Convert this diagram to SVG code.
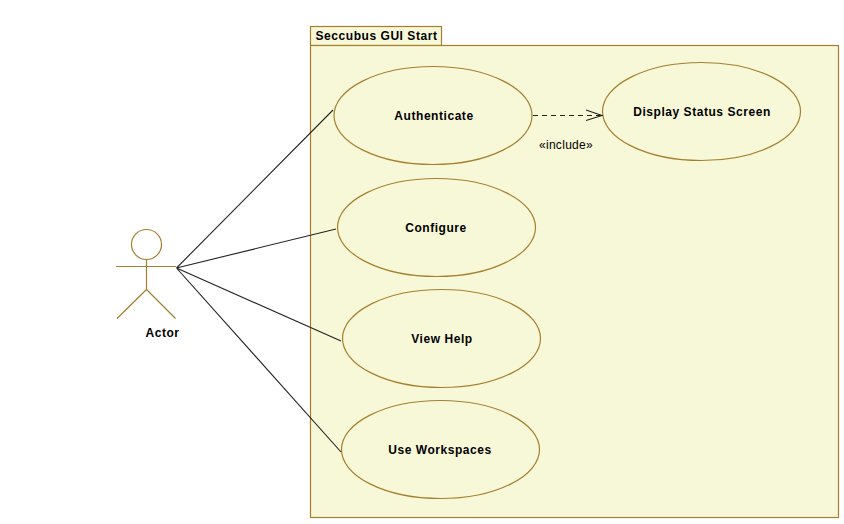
<svg xmlns="http://www.w3.org/2000/svg" width="844" height="524" viewBox="0 0 844 524">
<style>
.s{fill:#f7f8d8;stroke:#a57f2f;stroke-width:1.2}
.l{fill:none;stroke:#a57f2f;stroke-width:1.2}
.c{fill:none;stroke:#222;stroke-width:1.1}
text{font-family:"Liberation Sans",Arial,sans-serif;font-size:12px;font-weight:bold;fill:#000;text-anchor:middle;letter-spacing:.55px}
</style>
<rect width="844" height="524" fill="#fff"/>
<g id="package">
<rect class="s" x="310.500" y="26.500" width="131" height="19"/>
<rect class="s" x="310.500" y="45.500" width="528" height="472"/>
<text x="376.500" y="40">Seccubus GUI Start</text>
</g>
<g id="authenticate"><ellipse class="s" cx="433" cy="115.500" rx="99" ry="49"/><text x="434" y="120">Authenticate</text></g>
<g id="display"><ellipse class="s" cx="701.500" cy="111.500" rx="99" ry="49"/><text x="702" y="116">Display Status Screen</text></g>
<g id="configure"><ellipse class="s" cx="436.500" cy="227.500" rx="99" ry="49"/><text x="436" y="232">Configure</text></g>
<g id="viewhelp"><ellipse class="s" cx="441.500" cy="338.500" rx="99" ry="49"/><text x="442" y="343">View Help</text></g>
<g id="workspaces"><ellipse class="s" cx="440.500" cy="449.500" rx="99" ry="49"/><text x="440" y="454">Use Workspaces</text></g>
<g id="actor">
<circle class="l" cx="146.500" cy="244.500" r="15"/>
<path class="l" d="M116 266.500H176M146.500 259.500V289.500M146.500 289.500L117 318.500M146.500 289.500L175.500 318.500"/>
<text x="162.500" y="337">Actor</text>
</g>
<g id="connectors">
<path class="c" d="M176.500 268L333 110M176.500 268L336 229M176.500 268L341 341M176.500 268L341 452"/>
<path class="c" stroke-dasharray="5 4" d="M533 115.500H600"/>
<path class="c" d="M586 110L602 115.500L586 120.500"/>
<text x="566" y="149" style="font-weight:normal;letter-spacing:.3px">«include»</text>
</g>
</svg>
